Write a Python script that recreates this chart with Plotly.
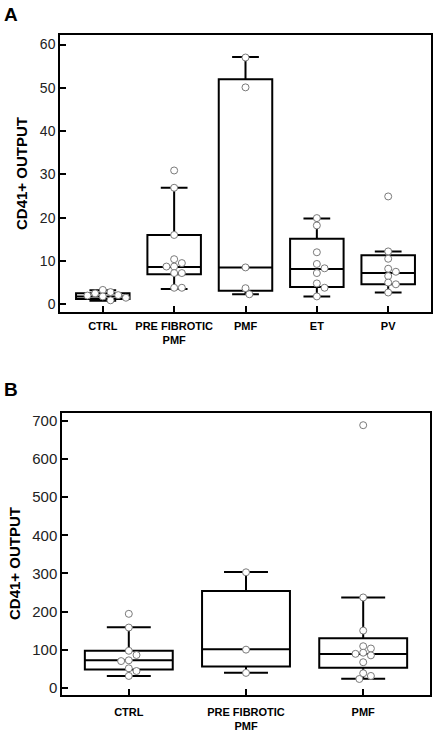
import plotly.graph_objects as go

# ---------------- data ----------------
cats_a = ["CTRL", "PRE FIBROTIC<br>PMF", "PMF", "ET", "PV"]
a_ctrl = [3.3, 2.8, 2.5, 2.1, 2.0, 1.8, 1.5, 0.9]
a_pre = [30.9, 26.9, 16.0, 10.4, 9.5, 8.7, 8.7, 7.2, 7.2, 3.8, 3.8]
a_pmf = [57.0, 50.1, 8.5, 3.7, 2.3]
a_et = [19.9, 18.2, 12.0, 9.3, 8.3, 7.2, 4.8, 3.8, 1.8]
a_pv = [24.9, 12.2, 10.5, 8.2, 7.5, 6.5, 5.0, 4.6, 2.7]
a_points = [a_ctrl, a_pre, a_pmf, a_et, a_pv]
# box statistics
a_lo = [0.8, 3.5, 2.3, 1.8, 2.7]
a_q1 = [1.2, 6.9, 3.1, 4.0, 4.6]
a_med = [1.8, 8.6, 8.5, 8.15, 7.2]
a_q3 = [2.55, 16.0, 52.0, 15.1, 11.3]
a_hi = [3.2, 26.9, 57.1, 19.8, 12.2]
a_yticks = [0, 10, 20, 30, 40, 50, 60]

cats_b = ["CTRL", "PRE FIBROTIC<br>PMF", "PMF"]
b_ctrl = [194, 158, 97, 86, 72, 70, 51, 44, 31]
b_pre = [303, 100, 39]
b_pmf = [689, 237, 150, 109, 103, 92, 89, 85, 67, 38, 31, 23]
b_points = [b_ctrl, b_pre, b_pmf]
b_lo = [30.7, 39.4, 23.6]
b_q1 = [48, 56, 52.5]
b_med = [72, 100.8, 88.5]
b_q3 = [97, 254, 129.6]
b_hi = [158.5, 303.7, 237]
b_yticks = [0, 100, 200, 300, 400, 500, 600, 700]

# ---------------- layout constants ----------------
W, H = 437, 732
A_X = (60, 431); A_Y = (35, 312)
B_X = (62, 430); B_Y = (413, 695)
A_XR = [-0.6, 4.6]; A_YR = [-1.8, 62.2]
B_XR = [-0.57, 2.57]; B_YR = [-19, 721]
MS = 7  # marker diameter px
BOXW = 0.75


def swarm(vals, xppu, yppu):
    """deterministic beeswarm offsets (data units) so markers don't overlap"""
    placed = []
    offs = []
    step = MS * 0.55
    for v in vals:
        cands = [0]
        for i in range(1, 20):
            cands += [i * step, -i * step]
        for c in cands:
            ok = True
            for (px, py) in placed:
                dx = c - px
                dy = (v - py) * yppu
                if (dx * dx + dy * dy) ** 0.5 < MS * 0.9:
                    ok = False
                    break
            if ok:
                placed.append((c, v))
                offs.append(c / xppu)
                break
    return offs


fig = go.Figure()


def add_panel(points, lo, q1, med, q3, hi, xref, yref, pxX, pxY, xr, yr):
    xppu = (pxX[1] - pxX[0]) / (xr[1] - xr[0])
    yppu = (pxY[1] - pxY[0]) / (yr[1] - yr[0])
    for i in range(len(points)):
        fig.add_trace(go.Box(
            x=[i], q1=[q1[i]], median=[med[i]], q3=[q3[i]],
            lowerfence=[lo[i]], upperfence=[hi[i]],
            width=BOXW, whiskerwidth=0.5,
            line=dict(color="black", width=2),
            fillcolor="rgba(255,255,255,0)",
            boxpoints=False, showlegend=False, hoverinfo="skip",
            xaxis=xref, yaxis=yref))
    for i, vals in enumerate(points):
        offs = swarm(vals, xppu, yppu)
        fig.add_trace(go.Scatter(
            x=[i + o for o in offs], y=vals, mode="markers",
            marker=dict(size=MS, color="white",
                        line=dict(color="#7a7a7a", width=1)),
            showlegend=False, xaxis=xref, yaxis=yref))


add_panel(a_points, a_lo, a_q1, a_med, a_q3, a_hi, "x", "y", A_X, A_Y, A_XR, A_YR)
add_panel(b_points, b_lo, b_q1, b_med, b_q3, b_hi, "x2", "y2", B_X, B_Y, B_XR, B_YR)

axis_common = dict(showline=True, linecolor="black", linewidth=1.5, mirror=True,
                   showgrid=False, zeroline=False, ticks="inside", ticklen=6,
                   tickwidth=1.5, tickcolor="black", automargin=False)
xfont = dict(family="Liberation Sans, Arial", size=11, color="black", weight="bold")
yfontA = dict(family="Liberation Sans, Arial", size=14, color="#222")
yfontB = dict(family="Liberation Sans, Arial", size=15, color="#222")
tfont = dict(family="Liberation Sans, Arial", size=15, color="black", weight="bold")
lfont = dict(family="Liberation Sans, Arial", size=19, color="black", weight="bold")

fig.update_layout(
    width=W, height=H, margin=dict(l=0, r=0, t=0, b=0),
    paper_bgcolor="white", plot_bgcolor="white",
    xaxis=dict(domain=[A_X[0] / W, A_X[1] / W], range=A_XR, tickvals=list(range(5)),
               ticktext=cats_a, tickfont=xfont, anchor="y", ticklabelstandoff=3,
               **axis_common),
    yaxis=dict(domain=[1 - A_Y[1] / H, 1 - A_Y[0] / H], range=A_YR, tickvals=a_yticks,
               tickfont=yfontA, anchor="x", **axis_common),
    xaxis2=dict(domain=[B_X[0] / W, B_X[1] / W], range=B_XR, tickvals=list(range(3)),
                ticktext=cats_b, tickfont=xfont, anchor="y2", ticklabelstandoff=6,
                **axis_common),
    yaxis2=dict(domain=[1 - B_Y[1] / H, 1 - B_Y[0] / H], range=B_YR, tickvals=b_yticks,
                tickfont=yfontB, anchor="x2", **axis_common),
    annotations=[
        dict(text="A", x=2 / W, y=1 - 14.5 / H, xref="paper", yref="paper",
             xanchor="left", yanchor="middle", showarrow=False, font=lfont),
        dict(text="B", x=2 / W, y=1 - 389.5 / H, xref="paper", yref="paper",
             xanchor="left", yanchor="middle", showarrow=False, font=lfont),
        dict(text="CD41+ OUTPUT", x=22 / W, y=1 - 174 / H, xref="paper", yref="paper",
             xanchor="center", yanchor="middle", textangle=-90, showarrow=False,
             font=tfont),
        dict(text="CD41+ OUTPUT", x=14 / W, y=1 - 564 / H, xref="paper", yref="paper",
             xanchor="center", yanchor="middle", textangle=-90, showarrow=False,
             font=tfont),
    ],
)

fig.write_html("out.html", config={"displayModeBar": False},
               post_script="document.body.style.margin='0';document.body.style.padding='0';")
